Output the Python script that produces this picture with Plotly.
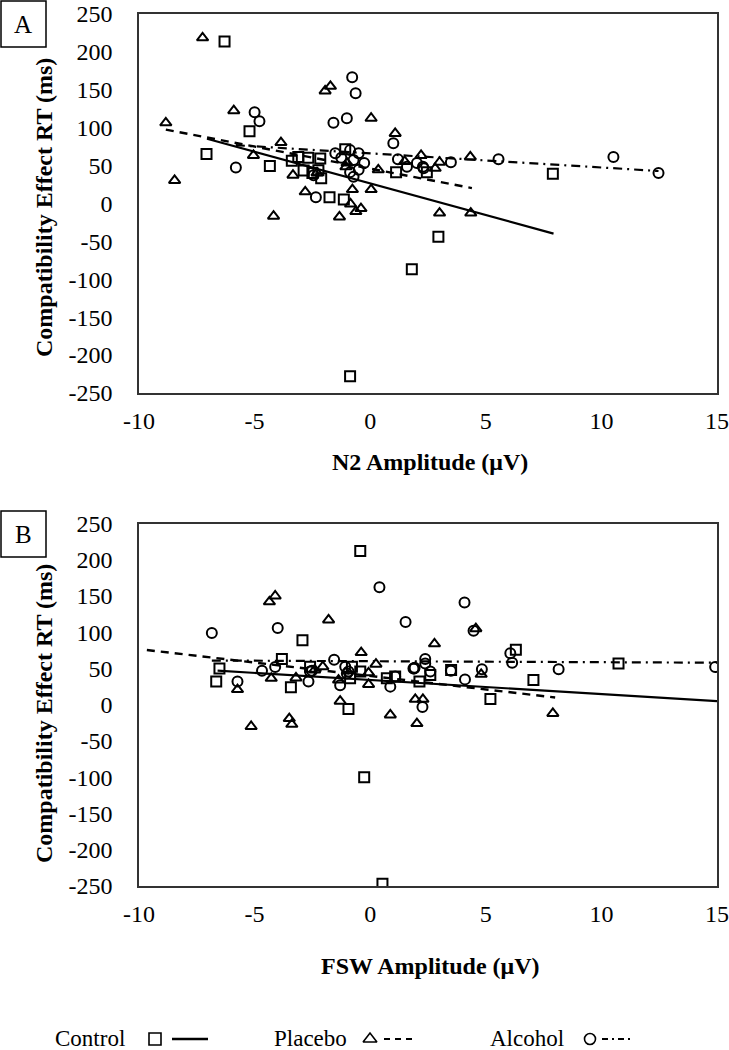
import plotly.graph_objects as go

# ---------------- Data ----------------
# Panel A: N2 amplitude (µV) vs compatibility effect RT (ms)
a_control_x = [-6.3, -5.22, -7.08, -4.34, -3.39, -3.11, -2.68, -2.16, -2.88, -2.24, -2.12, -1.76, -1.14, -1.08, 1.12, 2.45, 2.95, 1.8, 7.9, -0.87, -2.5]
a_control_y = [213, 95, 65, 49, 56, 61, 60, 59, 43, 43.5, 33, 8, 5, 71, 41, 41, -44, -87, 39, -228, 40]

a_placebo_x = [-7.25, -8.84, -5.9, -8.46, -1.72, -1.95, 0.04, -3.86, -5.05, 1.08, -3.34, -2.81, -4.18, -1.33, -0.77, 0.04, -0.85, -0.62, -0.4, 0.35, -1.05, 3.0, 4.35, 4.33, 2.2, 3.0, 2.81, 1.49, -2.3, -1.0]
a_placebo_y = [218, 106, 122, 30, 154, 148, 112, 80, 63, 92, 37, 15, -17, -18, 18, 18, -1, -11, -7, 44, 48, -13, -13, 61, 63, 54, 46, 55, 40, 53]

a_alcohol_x = [-0.78, -0.63, -5.0, -4.79, -1.01, -1.59, -5.81, -2.35, -1.51, -1.25, -0.87, -0.5, -0.26, -0.5, -0.72, -0.87, -2.45, -0.72, 1.0, 1.2, 1.59, 2.02, 2.28, 2.31, 3.49, 5.55, 10.52, 12.47]
a_alcohol_y = [166, 145, 120, 108, 112, 106, 47, 8, 66, 60, 70, 66, 53, 44, 35, 41, 37, 57, 79, 58, 48, 53, 48, 46, 54, 58, 61, 40]

a_trend_control_x = [-7.06, 7.93]
a_trend_control_y = [85, -40]
a_trend_placebo_x = [-8.84, 4.4]
a_trend_placebo_y = [97, 20]
a_trend_alcohol_x = [-5.81, 12.47]
a_trend_alcohol_y = [76.5, 42.5]

# Panel B: FSW amplitude (µV) vs compatibility effect RT (ms)
b_control_x = [-0.43, -2.93, 6.3, -3.82, -6.52, -6.66, -2.6, -0.79, -0.43, -3.43, -0.87, 0.72, 1.08, 2.13, 2.6, -0.94, 10.74, 7.06, 5.2, -0.26, 0.53, 3.5]
b_control_y = [212, 89, 76, 63, 50, 32, 52.5, 52.5, 46, 24, 36.5, 36.5, 39, 32, 41, -6, 57, 34, 8, -100, -247, 48]

b_placebo_x = [-4.36, -4.11, -1.8, 2.78, 4.57, -0.39, 0.25, -2.05, -0.07, -0.07, -4.28, -3.21, -1.37, -1.3, -5.74, -5.15, -3.5, -3.39, 0.87, 1.95, 2.28, 2.02, 4.8, 7.9, -2.4]
b_placebo_y = [142, 150, 117, 84, 105, 72, 56, 52.5, 44, 28, 36.5, 37, 34, 5, 21, -30, -19, -27, -14, 7.5, 7.5, -26, 42, -12, 48]

b_alcohol_x = [-6.85, -4.0, 0.4, 4.08, 1.53, 4.47, 6.06, 6.14, 14.92, 8.15, 1.9, 2.38, 2.6, 3.49, 4.83, 4.1, -1.56, -4.68, -4.11, -2.52, -1.08, -0.94, 1.92, -5.74, -2.67, -2.6, -1.3, -1.01, 0.87, 1.08, 2.26, 1.87, 2.38]
b_alcohol_y = [99, 106, 162, 141, 114, 102, 71, 58, 52, 49, 50, 57, 46, 47, 49, 35, 62, 47, 52, 47, 52.5, 46, 51, 32, 32, 46, 27, 43, 25, 39, -3, 50, 63]

b_trend_control_x = [-6.6, 15]
b_trend_control_y = [47, 5]
b_trend_placebo_x = [-9.66, 8]
b_trend_placebo_y = [75.5, 10]
b_trend_alcohol_x = [-6.85, 15]
b_trend_alcohol_y = [61, 58]

x_ticks = [-10, -5, 0, 5, 10, 15]
x_tick_labels = ["-10", "-5", "0", "5", "10", "15"]
y_ticks = [250, 200, 150, 100, 50, 0, -50, -100, -150, -200, -250]
y_tick_labels = ["250", "200", "150", "100", "50", "0", "-50", "-100", "-150", "-200", "-250"]

group_names = ["Control", "Placebo", "Alcohol"]

# ---------------- Geometry ----------------
W, H = 729, 1050
def px(v):
    return v / W
def py(v):
    return 1 - v / H

SERIF = "Liberation Serif, Times New Roman, serif"
DASH = "8px,6px"
DASHDOT = "9px,5px,2px,5px"
SYMBOLS = ["square-open", "triangle-up-open", "circle-open"]
LINE_STYLES = [dict(color="black", width=2.2),
               dict(color="black", width=2.4, dash=DASH),
               dict(color="black", width=2.2, dash=DASHDOT)]

fig = go.Figure()

def add_panel(xa, ya, pts, trends):
    for (xs, ys), sym in zip(pts, SYMBOLS):
        fig.add_trace(go.Scatter(x=xs, y=ys, mode="markers", xaxis=xa, yaxis=ya,
                                 marker=dict(symbol=sym, size=10, color="black",
                                             line=dict(color="black", width=2)),
                                 showlegend=False, hoverinfo="skip"))
    for (xs, ys), ls in zip(trends, LINE_STYLES):
        fig.add_trace(go.Scatter(x=xs, y=ys, mode="lines", xaxis=xa, yaxis=ya,
                                 line=ls, showlegend=False, hoverinfo="skip"))

add_panel("x", "y",
          [(a_control_x, a_control_y), (a_placebo_x, a_placebo_y), (a_alcohol_x, a_alcohol_y)],
          [(a_trend_control_x, a_trend_control_y), (a_trend_placebo_x, a_trend_placebo_y),
           (a_trend_alcohol_x, a_trend_alcohol_y)])
add_panel("x2", "y2",
          [(b_control_x, b_control_y), (b_placebo_x, b_placebo_y), (b_alcohol_x, b_alcohol_y)],
          [(b_trend_control_x, b_trend_control_y), (b_trend_placebo_x, b_trend_placebo_y),
           (b_trend_alcohol_x, b_trend_alcohol_y)])

# ---- custom legend drawn on a small pixel-coordinate strip at the bottom ----
leg_y = 1039
leg_text_x = [90, 310, 527]
leg_sym_x = [155, 370, 590]
leg_line_x = [(172, 208), (384, 414), (602, 632)]
leg_sym_size = [12, 12, 11]
leg_line_styles = [dict(color="black", width=2.4),
                   dict(color="black", width=2, dash="6px,5px"),
                   dict(color="black", width=2, dash="6px,4px,2px,4px")]
for sx, sym, sz in zip(leg_sym_x, SYMBOLS, leg_sym_size):
    fig.add_trace(go.Scatter(x=[sx], y=[leg_y], mode="markers", xaxis="x3", yaxis="y3",
                             marker=dict(symbol=sym, size=sz, color="black", line=dict(width=1.6)),
                             showlegend=False, hoverinfo="skip", cliponaxis=False))
for (x0, x1), ls in zip(leg_line_x, leg_line_styles):
    fig.add_trace(go.Scatter(x=[x0, x1], y=[leg_y, leg_y], mode="lines", xaxis="x3", yaxis="y3",
                             line=ls, showlegend=False, hoverinfo="skip"))

tickfont = dict(family=SERIF, size=24, color="black")
xdom = [px(139), px(717)]
common_x = dict(range=[-10, 15], tickvals=x_ticks, ticktext=x_tick_labels, showgrid=False,
                zeroline=False, showline=True, mirror=True, linecolor="#333", linewidth=1.6,
                ticks="", tickfont=tickfont, ticklabelstandoff=5, automargin=False)
common_y = dict(range=[-250, 250], tickvals=y_ticks, ticktext=y_tick_labels, showgrid=False,
                zeroline=False, showline=True, mirror=True, linecolor="#333", linewidth=1.6,
                ticks="", tickfont=tickfont, ticklabelstandoff=20, automargin=False)

fig.update_layout(
    width=W, height=H,
    margin=dict(l=0, r=0, t=0, b=0, pad=0, autoexpand=False),
    paper_bgcolor="white", plot_bgcolor="rgba(0,0,0,0)",
    showlegend=False,
    xaxis=dict(domain=xdom, anchor="y", **common_x),
    yaxis=dict(domain=[py(393), py(13.5)], anchor="x", **common_y),
    xaxis2=dict(domain=xdom, anchor="y2", **common_x),
    yaxis2=dict(domain=[py(886), py(523.5)], anchor="x2", **common_y),
    xaxis3=dict(domain=[0, 1], range=[0, W], visible=False, anchor="y3", fixedrange=True),
    yaxis3=dict(domain=[0, py(1020)], range=[H, 1020], visible=False, anchor="x3", fixedrange=True),
)

def note(x, y, text, font, angle=0):
    return dict(x=px(x), y=py(y), xref="paper", yref="paper", text=text, textangle=angle,
                showarrow=False, font=font, xanchor="center", yanchor="middle")

ann = []
titlefont = dict(family=SERIF, size=24, color="black")
ann.append(note(44, 208, "<b>Compatibility Effect RT (ms)</b>", titlefont, -90))
ann.append(note(44, 714, "<b>Compatibility Effect RT (ms)</b>", titlefont, -90))
ann.append(note(430, 462, "<b>N2 Amplitude (μV)</b>", titlefont))
ann.append(note(430, 966, "<b>FSW Amplitude (μV)</b>", titlefont))
ann.append(note(23.5, 24, "A", dict(family=SERIF, size=25, color="black")))
ann.append(note(23.5, 534, "B", dict(family=SERIF, size=25, color="black")))
legfont = dict(family=SERIF, size=23, color="black")
for label, xc in zip(group_names, leg_text_x):
    ann.append(note(xc, leg_y - 1, label, legfont))
fig.update_layout(annotations=ann)

shapes = [
    dict(type="rect", xref="paper", yref="paper", x0=px(1), x1=px(46), y0=py(47), y1=py(1),
         line=dict(color="black", width=1.5)),
    dict(type="rect", xref="paper", yref="paper", x0=px(1), x1=px(46), y0=py(557), y1=py(511),
         line=dict(color="black", width=1.5)),
]
fig.update_layout(shapes=shapes)

# remove the default 8px page margin so the figure sits at the window's origin
fig.write_html("out.html", config={"displayModeBar": False},
               post_script="document.body.style.margin='0';")
